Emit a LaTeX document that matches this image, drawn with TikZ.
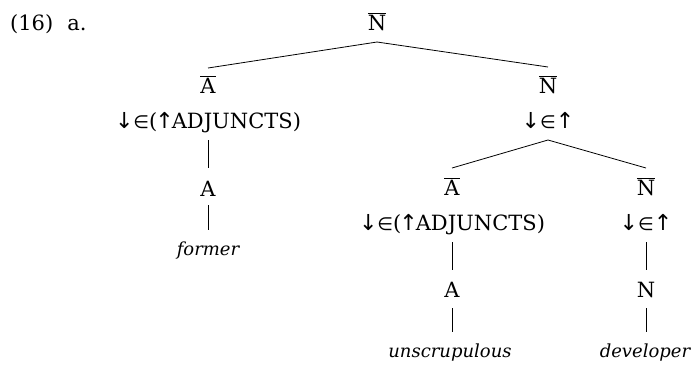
\documentclass[tikz,border=0pt]{standalone}
\usepackage{fontspec}
\setmainfont{DejaVu Serif}
\newfontfamily\symf{DejaVu Sans}
\usetikzlibrary{calc}
\newcommand{\barcat}[1]{$\overline{\mbox{#1}}$}
\newcommand{\arr}[1]{{\symf\fontsize{22}{24}\selectfont #1}}
\newcommand{\elem}{{\symf\fontsize{18}{20}\selectfont ∈}}
\newcommand{\adjs}{\arr{↓}\elem(\kern-2pt\arr{↑}\kern-2pt ADJUNCTS)}
\newcommand{\elup}{\arr{↓}\elem\arr{↑}}
\newcommand{\itword}[1]{{\fontsize{18}{22}\selectfont\itshape #1}}
\begin{document}
\begin{tikzpicture}[x=1pt,y=-1pt,
  lab/.style={anchor=base, inner sep=0pt, font=\fontsize{21}{25}\selectfont},
  br/.style={line width=0.8pt}]
\useasboundingbox (0,0) rectangle (693,364);
\node[lab, anchor=base west] (ex) at (10,30) {(16)\hspace{14pt}a.};
\node[lab] (root) at (377,30) {\barcat{N}};
\node[lab] (lA) at (208,93) {\barcat{A}};
\node[lab] (lAe) at (208,128) {\adjs};
\node[lab] (lAA) at (208,196) {A};
\node[lab] (lF) at (208,255) {\itword{former}};
\node[lab] (rN) at (548,93) {\barcat{N}};
\node[lab] (rNe) at (548,128) {\elup};
\node[lab] (rA) at (452,195) {\barcat{A}};
\node[lab] (rAe) at (452,230) {\adjs};
\node[lab] (rAA) at (452,297) {A};
\node[lab] (rU) at (450,357) {\itword{unscrupulous}};
\node[lab] (rN2) at (646,195) {\barcat{N}};
\node[lab] (rN2e) at (646,230) {\elup};
\node[lab] (rNN) at (646,297) {N};
\node[lab] (rD) at (645,357) {\itword{developer}};
\draw[br] ([yshift=-12pt]root.base) -- ([yshift=25pt]lA.base);
\draw[br] ([yshift=-12pt]root.base) -- ([yshift=26pt]rN.base);
\draw[br] ([yshift=-12pt]lAe.base) -- ([yshift=28pt]lAA.base);
\draw[br] ([yshift=-9pt]lAA.base) -- ($(lAA.base |- lF.base)+(0,-25)$);
\draw[br] ([yshift=-12pt]rNe.base) -- ([yshift=27pt]rA.base);
\draw[br] ([yshift=-12pt]rNe.base) -- ([yshift=27pt]rN2.base);
\draw[br] ([yshift=-12pt]rAe.base) -- ([yshift=27pt]rAA.base);
\draw[br] ([yshift=-11pt]rAA.base) -- ($(rAA.base |- rU.base)+(0,-25)$);
\draw[br] ([yshift=-12pt]rN2e.base) -- ([yshift=27pt]rNN.base);
\draw[br] ([yshift=-11pt]rNN.base) -- ($(rNN.base |- rD.base)+(0,-25)$);
\end{tikzpicture}
\end{document}
